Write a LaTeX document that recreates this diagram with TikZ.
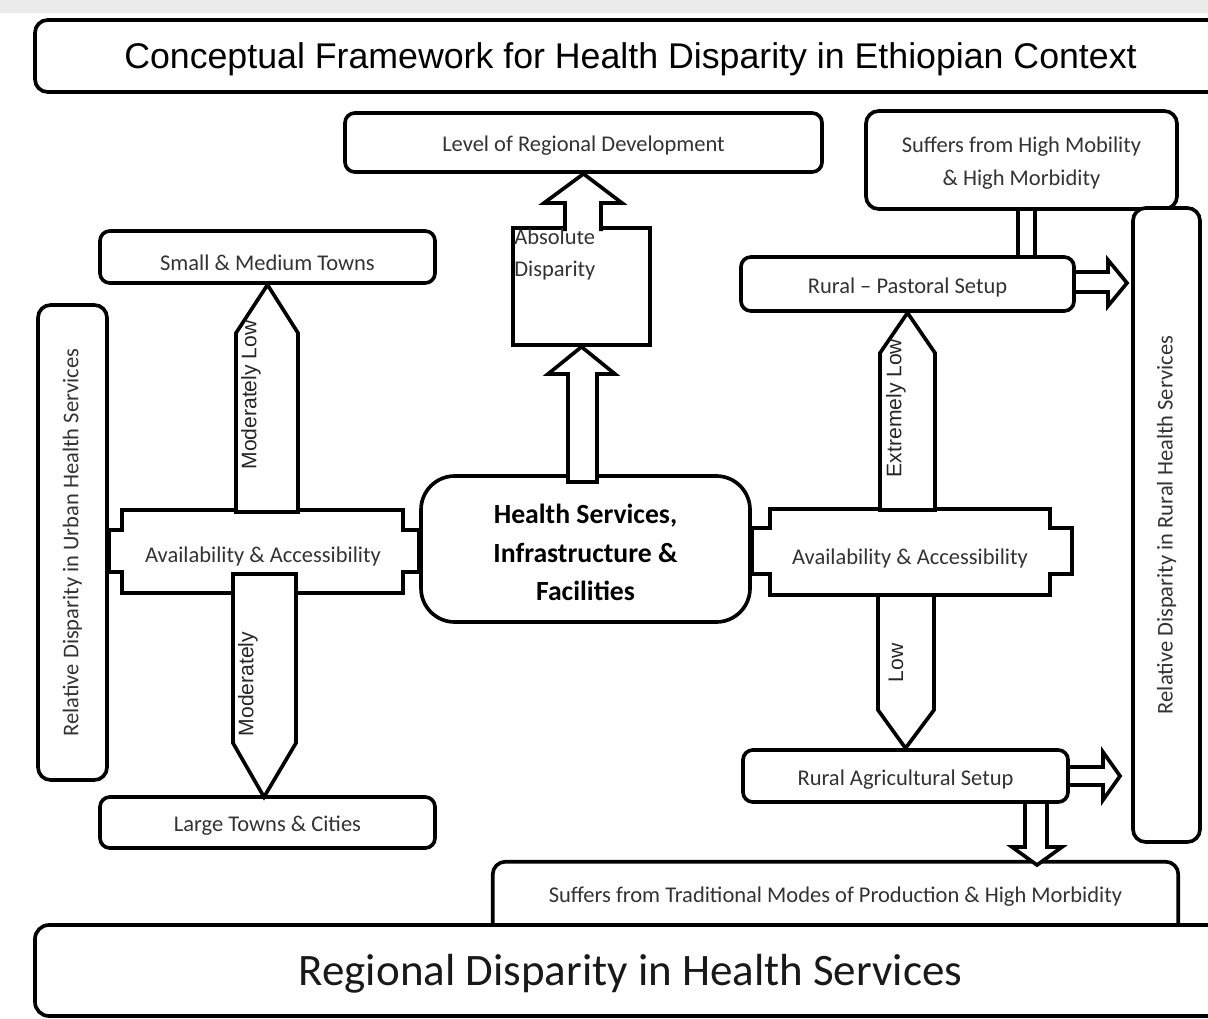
\documentclass[tikz,border=0pt]{standalone}
\usepackage{fontspec}
\setmainfont{Carlito}
\newfontfamily\arialfont{Liberation Sans}
\usetikzlibrary{fit}

\begin{document}
\begin{tikzpicture}[x=0.025cm, y=-0.025cm,
    outline/.style={line width=2.6pt},
    smalltext/.style={text=black!80, font=\fontsize{16}{23.5}\selectfont},
    box/.style={outline, draw, fill=white, rounded corners=7pt, inner sep=0pt},
    every label/.append style={yshift=-2.5pt},
    boxtext/.style={label={[smalltext, align=center]center:{#1}}},
    blockarrow/.style={outline, draw, fill=white, line join=miter},
    level/.style={rotate=90, text=black!85, font=\arialfont\fontsize{15}{18}\selectfont},
    vertical/.style={rotate=90, smalltext}]

  \clip (0,0) rectangle (1208,1018);
  \fill[black!8] (0,0) rectangle (1208,13);

  % header bar, runs off to the right
  \node[box, rounded corners=9pt, fit={(35,20) (1226,92)},
      label={[text=black, font=\arialfont\fontsize{25.4}{30}\selectfont]center:{Conceptual Framework for Health Disparity in Ethiopian Context}}] (title) {};

  % top row
  \node[box, fit={(345,113) (822,172)}, boxtext={Level of Regional Development}] (develop) {};
  \node[box, rounded corners=9pt, fit={(866,111) (1177,209)},
      boxtext={Suffers from High Mobility\\\& High Morbidity}] (mobility) {};

  % urban side
  \node[box, fit={(100,231) (435,283)},
      label={[smalltext, yshift=-1.5pt]center:{Small \& Medium Towns}}] (smalltowns) {};
  \node[box, fit={(100,797) (435,848)}, boxtext={Large Towns \& Cities}] (largetowns) {};
  \node[box, rounded corners=9pt, fit={(38,305) (107,780)}] (urban) {};
  \node[vertical] (urbantext) at (urban.center) {Relative Disparity in Urban Health Services};

  % rural side
  \node[box, rounded corners=9pt, fit={(1133,208) (1200,842)}] (rural) {};
  \node[vertical] (ruraltext) at (rural.center) {Relative Disparity in Rural Health Services};
  \node[box, fit={(741,257) (1074,311)}, boxtext={Rural – Pastoral Setup}] (pastoral) {};
  \node[box, fit={(743,750) (1068,802)}, boxtext={Rural Agricultural Setup}] (agri) {};

  % centre
  \node[box, rounded corners=24pt, fit={(421,476) (750,622)},
      label={[text=black, align=center, font=\bfseries\fontsize{19.7}{27.4}\selectfont]center:{Health Services,\\Infrastructure \&\\Facilities}}] (health) {};
  \node[outline, draw, fill=white, inner sep=0pt, fit={(513,228) (650,345)}] (absolute) {};
  \node[anchor=north west, inner sep=0pt, align=left, smalltext,
      font=\fontsize{16}{22.8}\selectfont] (abstext) at (514,229) {Absolute\\Disparity};

  % availability blocks with their tabs
  \draw[blockarrow] (urban.east |- 0,530) -- (122,530) -- (122,510) -- (403,510) -- (403,530)
      -- (health.west |- 0,530) -- (health.west |- 0,572) -- (403,572) -- (403,593)
      -- (122,593) -- (122,572) -- (urban.east |- 0,572) -- cycle;
  \node[smalltext] (urbanaccess) at (263,556) {Availability \& Accessibility};
  \draw[blockarrow] (health.east |- 0,528) -- (770,528) -- (770,509) -- (1050,509) -- (1050,528)
      -- (1072,528) -- (1072,574) -- (1050,574) -- (1050,595) -- (770,595) -- (770,574)
      -- (health.east |- 0,574) -- cycle;
  \node[smalltext] (ruralaccess) at (910,558) {Availability \& Accessibility};

  % absolute disparity
  \draw[blockarrow] (568,482) -- (568,374) -- (548,374) -- (absolute.south) -- (615,374)
      -- (597,374) -- (597,482) -- cycle;
  \draw[blockarrow] (565,231) -- (565,203) -- (544,203) -- (develop.south) -- (622,203)
      -- (601,203) -- (601,231);

  % urban levels
  \draw[blockarrow] (236,512) -- (236,333) -- (smalltowns.south) -- (298,333) -- (298,512) -- cycle;
  \node[level] (modlow) at (251,395) {Moderately Low};
  \draw[blockarrow] (233,574) -- (233,743) -- (264,797) -- (296,743) -- (296,574) -- cycle;
  \node[level] (moderate) at (248,684) {Moderately};

  % rural levels
  \draw[blockarrow] (880,510) -- (880,353) -- (pastoral.south) -- (935,353) -- (935,510) -- cycle;
  \node[level] (extlow) at (896,408) {Extremely Low};
  \draw[blockarrow] (878,595) -- (878,710) -- (agri.north) -- (934,710) -- (934,595) -- cycle;
  \node[level] (low) at (896,663) {Low};

  % links into the rural column
  \draw[outline] (1018,209) -- (1018,257) (1035,209) -- (1035,257);
  \draw[blockarrow] (1076,272) -- (1108,272) -- (1108,260) -- (1127,283) -- (1108,306)
      -- (1108,292) -- (1076,292);
  \draw[blockarrow] (1070,767) -- (1103,767) -- (1103,752) -- (1120,776) -- (1103,800)
      -- (1103,785) -- (1070,785);

  % footer with the tab on top
  \node[fill=white, inner sep=0pt, fit={(493,862) (1178,925)},
      boxtext={Suffers from Traditional Modes of Production \& High Morbidity}] (traditional) {};
  \draw[outline, rounded corners=9pt] (traditional.south west) |- (traditional.north)
      -| (traditional.south east);
  \draw[blockarrow] (1025,804) -- (1025,847) -- (1012,847) -- (1037,865) -- (1062,847)
      -- (1047,847) -- (1047,804);
  \node[box, rounded corners=10pt, fit={(35,925) (1226,1016)},
      label={[text=black!90, font=\fontsize{32}{38}\selectfont]center:{Regional Disparity in Health Services}}] (footer) {};

\end{tikzpicture}
\end{document}
